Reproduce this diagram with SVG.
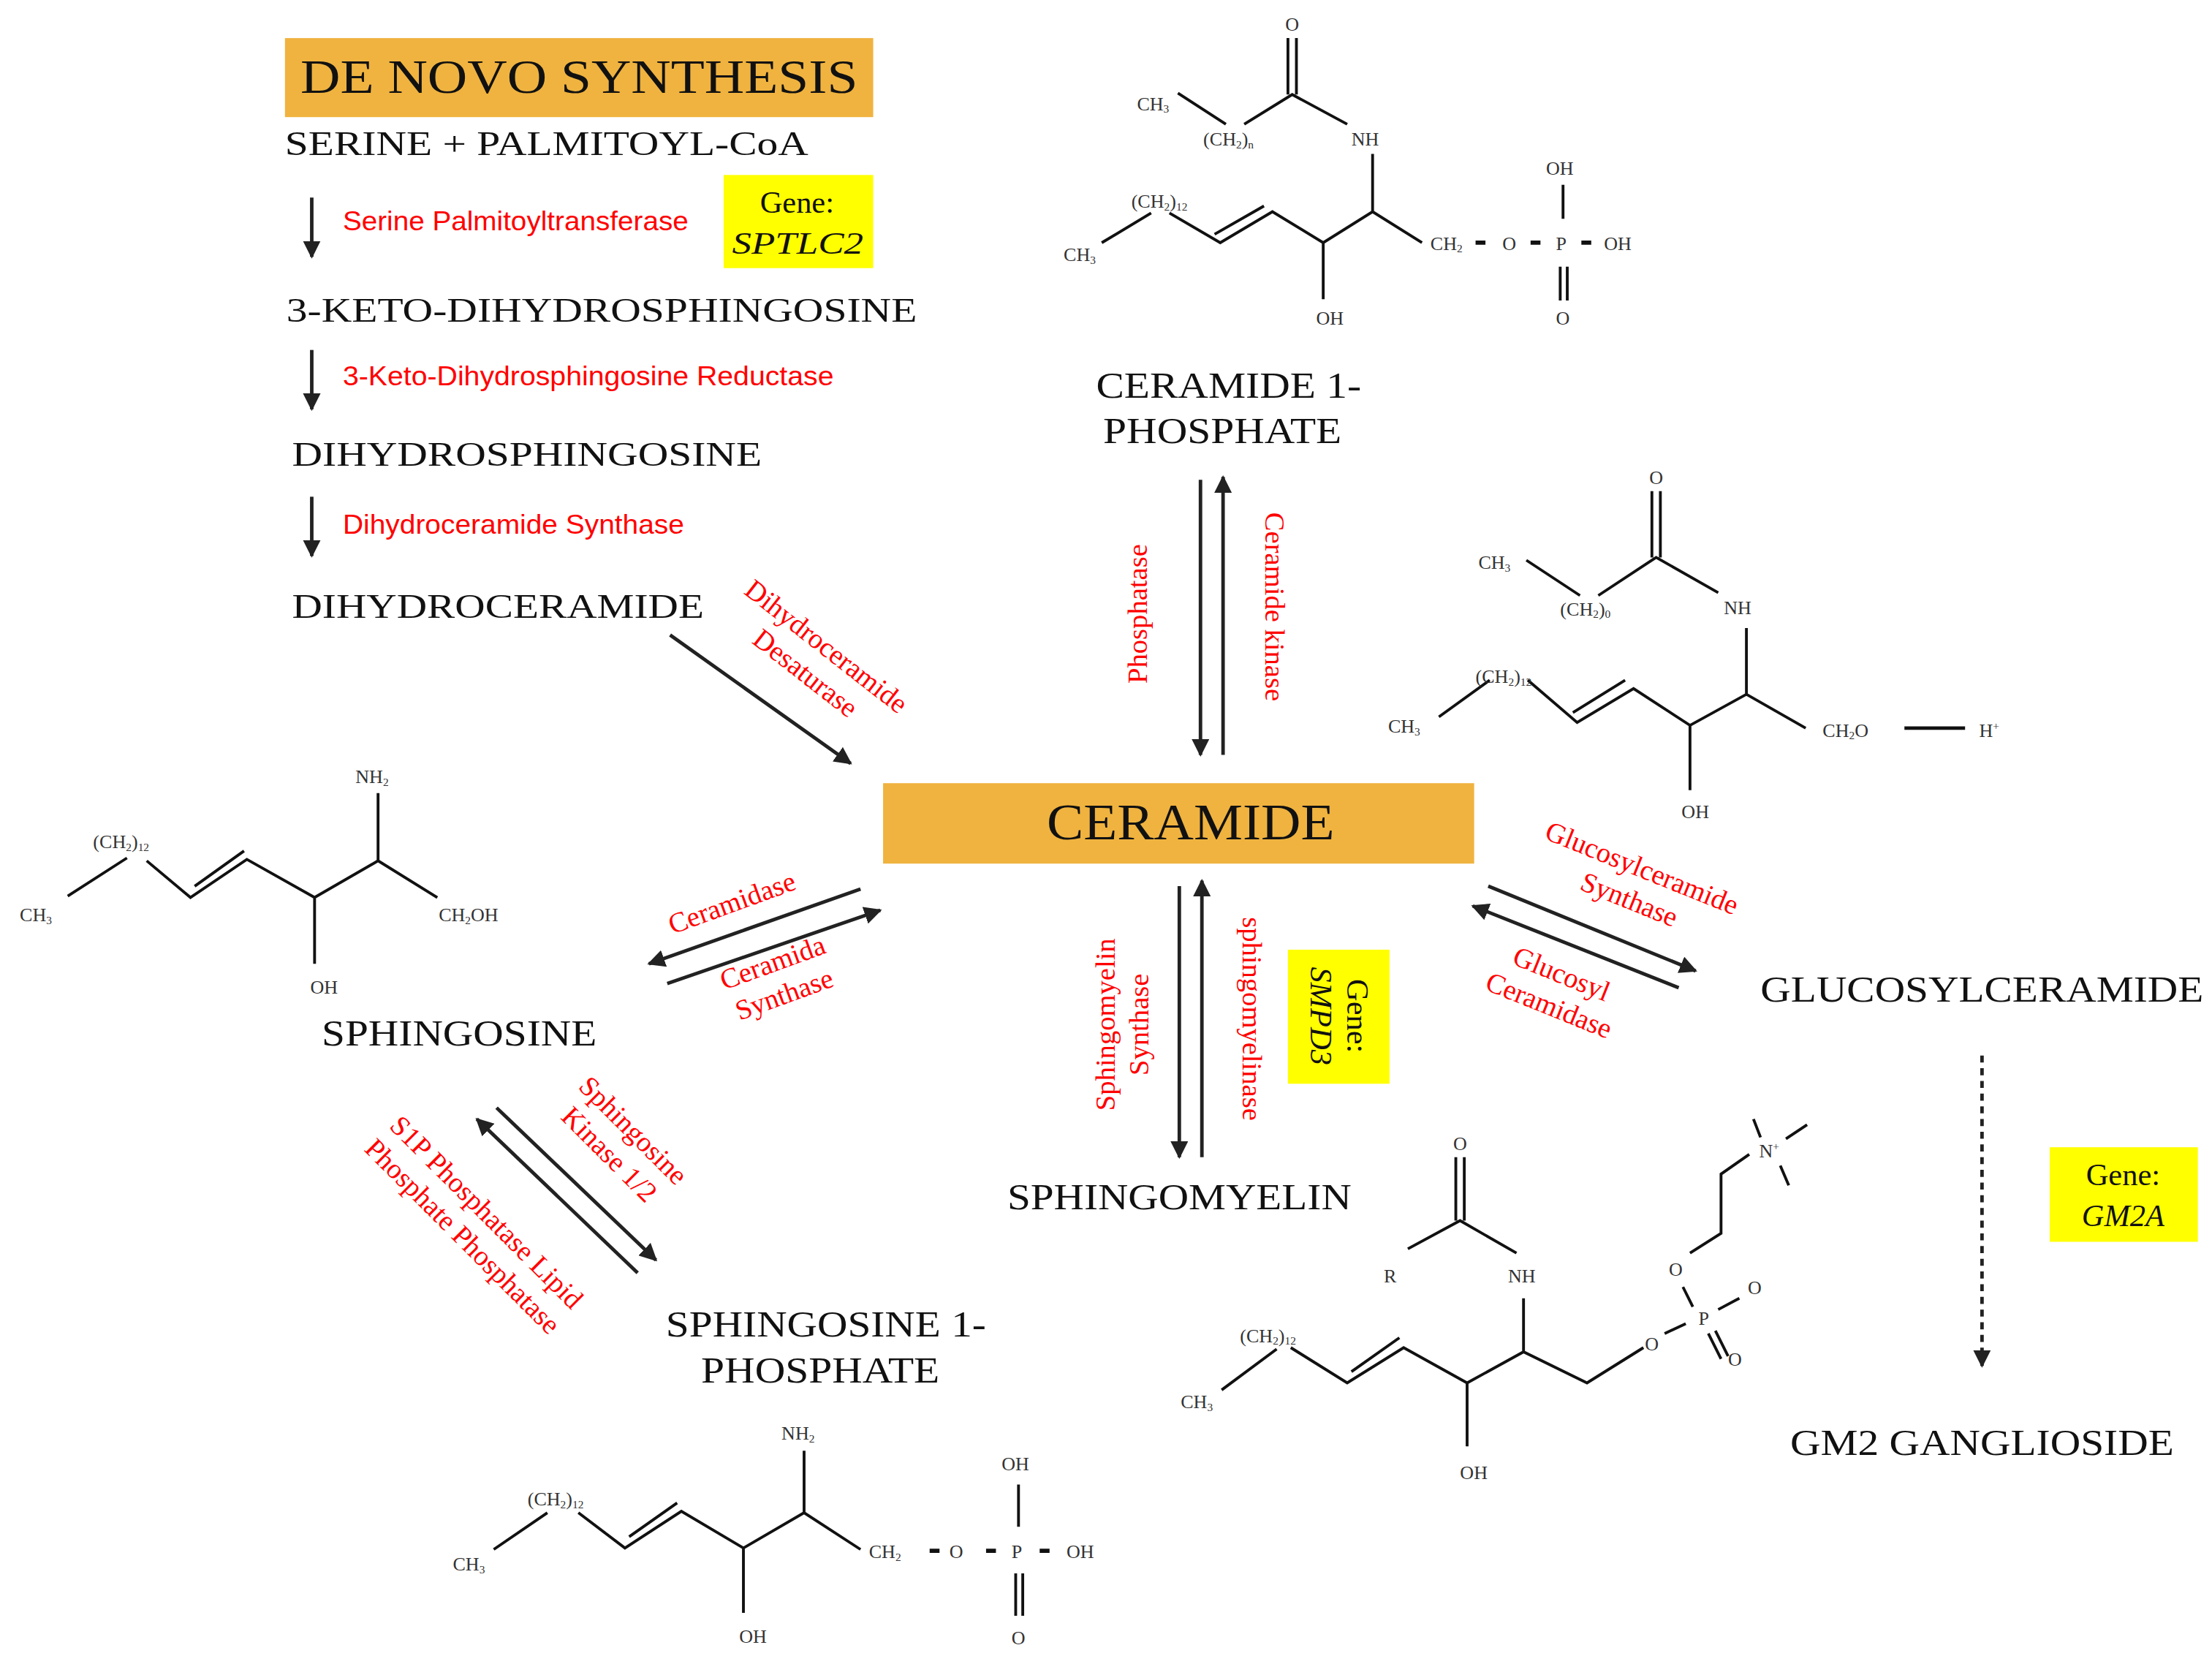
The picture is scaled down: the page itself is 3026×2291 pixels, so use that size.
<svg xmlns="http://www.w3.org/2000/svg" width="3026" height="2291" viewBox="0 0 3026 2291">
<style>
.t{font-family:"Liberation Serif",serif;fill:#111}
.r{font-family:"Liberation Sans",sans-serif;fill:#f00;font-size:19px}
.rs{font-family:"Liberation Serif",serif;fill:#f00;font-size:20px}
.c{font-family:"Liberation Serif",serif;fill:#333;font-size:13.5px}
.b{stroke:#111;stroke-width:2;fill:none}
.d{stroke:#111;stroke-width:3;fill:none}
.a{stroke:#222;stroke-width:2.5;fill:none}
</style>
<defs>
<marker id="ah" viewBox="0 0 10 10" refX="9" refY="5" markerWidth="5" markerHeight="5" orient="auto" markerUnits="strokeWidth"><path d="M0,0L10,5L0,10z" fill="#222"/></marker>
</defs>
<rect width="3026" height="2291" fill="#fff"/>
<g transform="scale(1.9298,1.9301)">
<g id="connectors">
<line class="a" x1="221" y1="140" x2="221" y2="182" marker-end="url(#ah)"/>
<line class="a" x1="221" y1="248" x2="221" y2="290" marker-end="url(#ah)"/>
<line class="a" x1="221" y1="352" x2="221" y2="394" marker-end="url(#ah)"/>
<line class="a" x1="475" y1="450" x2="603" y2="541" marker-end="url(#ah)"/>
<line class="a" x1="851" y1="340" x2="851" y2="535" marker-end="url(#ah)"/>
<line class="a" x1="867" y1="535" x2="867" y2="338" marker-end="url(#ah)"/>
<line class="a" x1="610" y1="630" x2="460" y2="683" marker-end="url(#ah)"/>
<line class="a" x1="473" y1="697" x2="624" y2="645" marker-end="url(#ah)"/>
<line class="a" x1="836" y1="628" x2="836" y2="820" marker-end="url(#ah)"/>
<line class="a" x1="852" y1="820" x2="852" y2="624" marker-end="url(#ah)"/>
<line class="a" x1="1055" y1="628" x2="1202" y2="688" marker-end="url(#ah)"/>
<line class="a" x1="1190" y1="700" x2="1044" y2="642" marker-end="url(#ah)"/>
<line class="a" x1="1405" y1="748" x2="1405" y2="968" stroke-dasharray="5,4" marker-end="url(#ah)"/>
<line class="a" x1="352" y1="785" x2="465" y2="893" marker-end="url(#ah)"/>
<line class="a" x1="452" y1="902" x2="338" y2="793" marker-end="url(#ah)"/>
</g>
<g id="denovo">
<rect x="202" y="27" width="417" height="56" fill="#f0b33f"/>
<text class="t" x="213" y="66" font-size="34" textLength="395" lengthAdjust="spacingAndGlyphs">DE NOVO SYNTHESIS</text>
<text class="t" x="202" y="110" font-size="24" textLength="371" lengthAdjust="spacingAndGlyphs">SERINE + PALMITOYL-CoA</text>
<text class="r" x="243" y="163" textLength="245" lengthAdjust="spacingAndGlyphs">Serine Palmitoyltransferase</text>
<text class="t" x="203" y="228" font-size="24" textLength="447" lengthAdjust="spacingAndGlyphs">3-KETO-DIHYDROSPHINGOSINE</text>
<text class="r" x="243" y="273" textLength="348" lengthAdjust="spacingAndGlyphs">3-Keto-Dihydrosphingosine Reductase</text>
<text class="t" x="207" y="330" font-size="24" textLength="333" lengthAdjust="spacingAndGlyphs">DIHYDROSPHINGOSINE</text>
<text class="r" x="243" y="378" textLength="242" lengthAdjust="spacingAndGlyphs">Dihydroceramide Synthase</text>
<text class="t" x="207" y="438" font-size="24" textLength="292" lengthAdjust="spacingAndGlyphs">DIHYDROCERAMIDE</text>
<g transform="translate(578,468) rotate(38)"><text class="rs" x="0" y="-6" text-anchor="middle">Dihydroceramide</text><text class="rs" x="0" y="18" text-anchor="middle">Desaturase</text></g>
</g>
<g id="gene-sptlc2">
<rect x="513" y="124" width="106" height="66" fill="#ffff00"/>
<text class="t" x="565" y="151" font-size="22" text-anchor="middle">Gene:</text>
<text class="t" x="519" y="180" font-size="22" font-style="italic" textLength="93" lengthAdjust="spacingAndGlyphs">SPTLC2</text>
</g>
<g id="ceramide">
<rect x="626" y="555" width="419" height="57" fill="#f0b33f"/>
<text class="t" x="742" y="595" font-size="36" textLength="204" lengthAdjust="spacingAndGlyphs">CERAMIDE</text>
</g>
<g id="c1p">
<text class="t" x="777" y="282" font-size="26" textLength="188" lengthAdjust="spacingAndGlyphs">CERAMIDE 1-</text>
<text class="t" x="782" y="314" font-size="26" textLength="169" lengthAdjust="spacingAndGlyphs">PHOSPHATE</text>
<text class="rs" transform="translate(813,435) rotate(-90)" text-anchor="middle">Phosphatase</text>
<text class="rs" transform="translate(897,430) rotate(90)" text-anchor="middle">Ceramide kinase</text>
<path class="b" d="M913,27V67M919,27V67M835,66L869,88M882,88L916,67L955,88M973,109V150M781,172L816,151M829,151L865,172L902,150L938,172L973,150L1008,172M938,172V212M861,166L896,146M1108,131V155M1106,189V213M1111,189V213"/>
<path class="d" d="M1046,172h7M1085,172h7M1121,172h7"/>
<text class="c" x="916" y="22" text-anchor="middle">O</text>
<text class="c" x="806" y="78">CH<tspan font-size="8" dy="2">3</tspan></text>
<text class="c" x="853" y="103">(CH<tspan font-size="8" dy="2">2</tspan><tspan dy="-2">)</tspan><tspan font-size="8" dy="2">n</tspan></text>
<text class="c" x="958" y="103">NH</text>
<text class="c" x="802" y="147">(CH<tspan font-size="8" dy="2">2</tspan><tspan dy="-2">)</tspan><tspan font-size="8" dy="2">12</tspan></text>
<text class="c" x="754" y="185">CH<tspan font-size="8" dy="2">3</tspan></text>
<text class="c" x="933" y="230">OH</text>
<text class="c" x="1014" y="177">CH<tspan font-size="8" dy="2">2</tspan></text>
<text class="c" x="1065" y="177">O</text>
<text class="c" x="1103" y="177">P</text>
<text class="c" x="1137" y="177">OH</text>
<text class="c" x="1096" y="124">OH</text>
<text class="c" x="1103" y="230">O</text>
</g>
<g id="ceramide-structure">
<path class="b" d="M1171,348V395M1177,348V395M1082,397L1120,422M1133,422L1174,395L1218,420M1238,445V492M1020,508L1056,482M1083,482L1118,512L1158,488L1198,514L1238,492L1280,516M1198,514V560M1115,505L1152,482"/>
<path d="M1350,516H1393" stroke="#111" stroke-width="2.5"/>
<text class="c" x="1174" y="343" text-anchor="middle">O</text>
<text class="c" x="1048" y="403">CH<tspan font-size="8" dy="2">3</tspan></text>
<text class="c" x="1106" y="436">(CH<tspan font-size="8" dy="2">2</tspan><tspan dy="-2">)</tspan><tspan font-size="8" dy="2">0</tspan></text>
<text class="c" x="1222" y="435">NH</text>
<text class="c" x="1046" y="484">(CH<tspan font-size="8" dy="2">2</tspan><tspan dy="-2">)</tspan><tspan font-size="8" dy="2">12</tspan></text>
<text class="c" x="984" y="519">CH<tspan font-size="8" dy="2">3</tspan></text>
<text class="c" x="1292" y="522">CH<tspan font-size="8" dy="2">2</tspan><tspan dy="-2">O</tspan></text>
<text class="c" x="1403" y="522">H<tspan font-size="8" dy="-5">+</tspan></text>
<text class="c" x="1192" y="580">OH</text>
</g>
<g id="sphingosine">
<path class="b" d="M268,562V610M48,635L90,608M104,610L135,636L175,609L223,636L268,610L310,636M223,636V683M138,628L173,603"/>
<text class="c" x="252" y="555">NH<tspan font-size="8" dy="2">2</tspan></text>
<text class="c" x="66" y="601">(CH<tspan font-size="8" dy="2">2</tspan><tspan dy="-2">)</tspan><tspan font-size="8" dy="2">12</tspan></text>
<text class="c" x="14" y="653">CH<tspan font-size="8" dy="2">3</tspan></text>
<text class="c" x="311" y="653">CH<tspan font-size="8" dy="2">2</tspan><tspan dy="-2">OH</tspan></text>
<text class="c" x="220" y="704">OH</text>
<text class="t" x="228" y="741" font-size="26" textLength="195" lengthAdjust="spacingAndGlyphs">SPHINGOSINE</text>
<text class="rs" transform="translate(521,646) rotate(-20)" text-anchor="middle">Ceramidase</text>
<g transform="translate(552,694) rotate(-20)"><text class="rs" x="0" y="-6" text-anchor="middle">Ceramida</text><text class="rs" x="0" y="18" text-anchor="middle">Synthase</text></g>
<g transform="translate(440,810) rotate(45)"><text class="rs" x="0" y="-6" text-anchor="middle">Sphingosine</text><text class="rs" x="0" y="18" text-anchor="middle">Kinase 1/2</text></g>
<g transform="translate(336,868) rotate(45)"><text class="rs" x="0" y="-6" text-anchor="middle">S1P Phosphatase Lipid</text><text class="rs" x="0" y="18" text-anchor="middle">Phosphate Phosphatase</text></g>
</g>
<g id="s1p">
<text class="t" x="472" y="947" font-size="26" textLength="227" lengthAdjust="spacingAndGlyphs">SPHINGOSINE 1-</text>
<text class="t" x="497" y="980" font-size="26" textLength="169" lengthAdjust="spacingAndGlyphs">PHOSPHATE</text>
<path class="b" d="M570,1028V1072M350,1098L388,1072M410,1072L443,1097L483,1071L527,1097L570,1072L610,1098M527,1097V1143M446,1089L480,1065M722,1052V1082M720,1115V1145M725,1115V1145"/>
<path class="d" d="M659,1099h7M699,1099h7M737,1099h7"/>
<text class="c" x="554" y="1020">NH<tspan font-size="8" dy="2">2</tspan></text>
<text class="c" x="374" y="1067">(CH<tspan font-size="8" dy="2">2</tspan><tspan dy="-2">)</tspan><tspan font-size="8" dy="2">12</tspan></text>
<text class="c" x="321" y="1113">CH<tspan font-size="8" dy="2">3</tspan></text>
<text class="c" x="616" y="1104">CH<tspan font-size="8" dy="2">2</tspan></text>
<text class="c" x="673" y="1104">O</text>
<text class="c" x="717" y="1104">P</text>
<text class="c" x="756" y="1104">OH</text>
<text class="c" x="710" y="1042">OH</text>
<text class="c" x="717" y="1165">O</text>
<text class="c" x="524" y="1164">OH</text>
</g>
<g id="sphingomyelin">
<text class="t" x="714" y="857" font-size="26" textLength="244" lengthAdjust="spacingAndGlyphs">SPHINGOMYELIN</text>
<g transform="translate(790,726) rotate(-90)"><text class="rs" x="0" y="0" text-anchor="middle">Sphingomyelin</text><text class="rs" x="0" y="24" text-anchor="middle">Synthase</text></g>
<text class="rs" transform="translate(881,722) rotate(90)" text-anchor="middle">sphingomyelinase</text>
<path class="b" d="M1032,820V865M1038,820V865M998,885L1035,865L1075,888M1080,920V958M866,985L905,956M915,955L955,980L995,955L1040,980L1080,958L1125,980L1165,955M958,972L992,948M1040,980V1025M1180,945L1195,938M1193,912L1200,926M1218,928L1233,920M1211,945L1220,963M1216,943L1225,961M1198,888L1220,874V832L1240,818M1243,793L1248,806M1266,807L1281,797M1262,826L1268,840"/>
<text class="c" x="1035" y="815" text-anchor="middle">O</text>
<text class="c" x="981" y="909">R</text>
<text class="c" x="1069" y="909">NH</text>
<text class="c" x="879" y="951">(CH<tspan font-size="8" dy="2">2</tspan><tspan dy="-2">)</tspan><tspan font-size="8" dy="2">12</tspan></text>
<text class="c" x="837" y="998">CH<tspan font-size="8" dy="2">3</tspan></text>
<text class="c" x="1035" y="1048">OH</text>
<text class="c" x="1166" y="957">O</text>
<text class="c" x="1204" y="939">P</text>
<text class="c" x="1183" y="904">O</text>
<text class="c" x="1239" y="917">O</text>
<text class="c" x="1225" y="968">O</text>
<text class="c" x="1247" y="820">N<tspan font-size="8" dy="-5">+</tspan></text>
</g>
<g id="gene-smpd3">
<rect x="913" y="673" width="72" height="95" fill="#ffff00"/>
<g transform="translate(949,720) rotate(90)"><text class="t" x="0" y="-6" font-size="22" text-anchor="middle">Gene:</text><text class="t" x="0" y="20" font-size="22" font-style="italic" text-anchor="middle">SMPD3</text></g>
</g>
<g id="glucosylceramide">
<g transform="translate(1160,625) rotate(22)"><text class="rs" x="0" y="-4" text-anchor="middle">Glucosylceramide</text><text class="rs" x="0" y="20" text-anchor="middle">Synthase</text></g>
<g transform="translate(1103,700) rotate(22)"><text class="rs" x="0" y="-4" text-anchor="middle">Glucosyl</text><text class="rs" x="0" y="20" text-anchor="middle">Ceramidase</text></g>
<text class="t" x="1248" y="710" font-size="26" textLength="314" lengthAdjust="spacingAndGlyphs">GLUCOSYLCERAMIDE</text>
</g>
<g id="gene-gm2a">
<rect x="1453" y="813" width="105" height="67" fill="#ffff00"/>
<text class="t" x="1505" y="840" font-size="22" text-anchor="middle">Gene:</text>
<text class="t" x="1505" y="869" font-size="22" font-style="italic" text-anchor="middle">GM2A</text>
</g>
<g id="gm2">
<text class="t" x="1269" y="1031" font-size="26" textLength="272" lengthAdjust="spacingAndGlyphs">GM2 GANGLIOSIDE</text>
</g>
</g>
</svg>
